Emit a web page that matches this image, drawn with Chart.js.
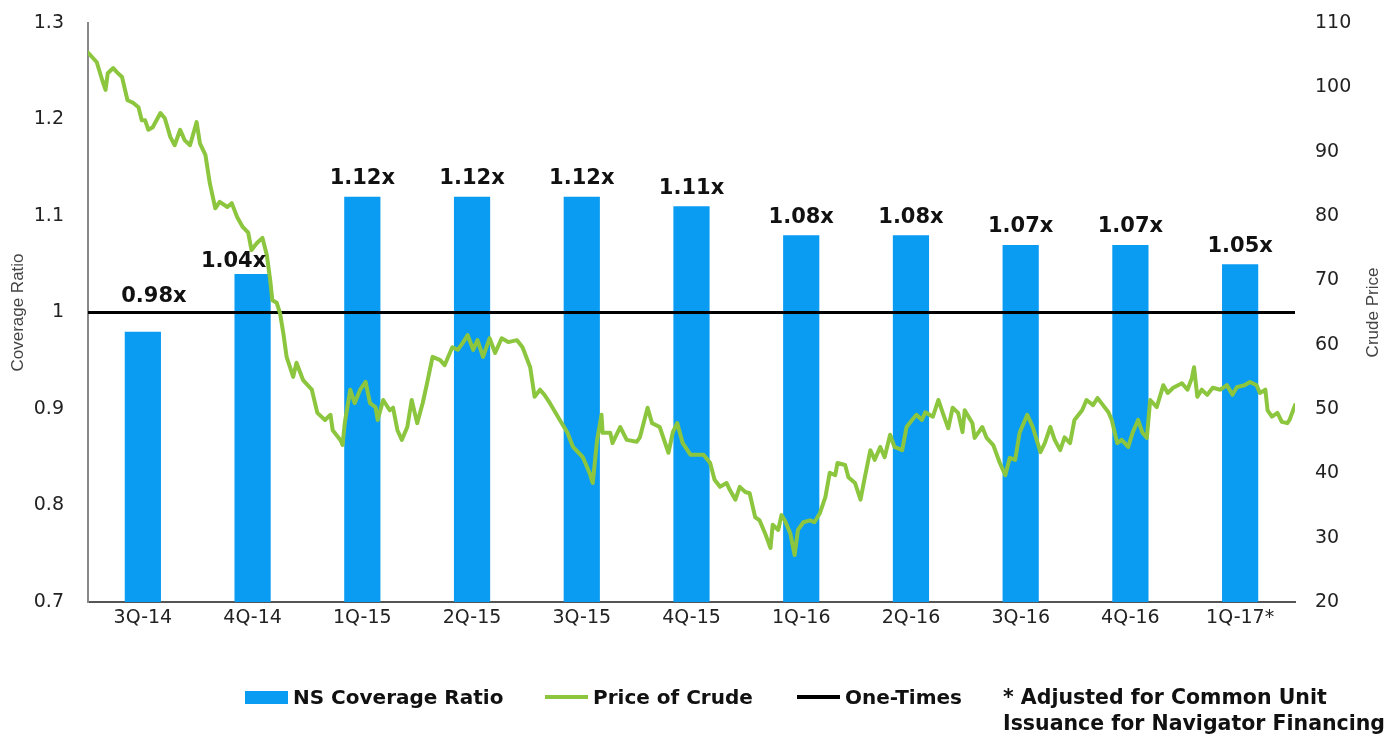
<!DOCTYPE html>
<html><head><meta charset="utf-8">
<script src="https://cdn.jsdelivr.net/npm/chart.js@4.4.1/dist/chart.umd.min.js"></script>
<style>
html,body{margin:0;padding:0;background:#fff;}
#wrap{position:relative;width:1397px;height:734px;overflow:hidden;}
#c{position:absolute;left:0;top:0;}
.lg{position:absolute;top:684px;font:bold 20px "DejaVu Sans",Verdana,sans-serif;color:#111;white-space:nowrap;display:flex;align-items:center;height:26px;}
.sw{display:inline-block;width:43px;margin-right:5px;}
.note{position:absolute;top:684px;left:1003px;font:bold 20.5px "DejaVu Sans",Verdana,sans-serif;color:#111;line-height:26px;white-space:nowrap;}
</style></head>
<body>
<div id="wrap"><canvas id="c" width="1397" height="734"></canvas></div>
<script>
// ---- data ----
const categories = ["3Q-14","4Q-14","1Q-15","2Q-15","3Q-15","4Q-15","1Q-16","2Q-16","3Q-16","4Q-16","1Q-17*"];
const coverageRatio = [0.98,1.04,1.12,1.12,1.12,1.11,1.08,1.08,1.07,1.07,1.05];
const coverageLabels = ["0.98x","1.04x","1.12x","1.12x","1.12x","1.11x","1.08x","1.08x","1.07x","1.07x","1.05x"];
const leftTickLabels = ["0.7","0.8","0.9","1","1.1","1.2","1.3"];
const rightTickLabels = ["20","30","40","50","60","70","80","90","100","110"];
// crude price: position in quarters since start of 3Q-14, price in $
const crudeQuarter = [0.00,0.08,0.13,0.16,0.18,0.23,0.26,0.31,0.36,0.41,0.46,0.49,0.52,0.55,0.59,0.66,0.70,0.75,0.79,0.84,0.88,0.93,0.99,1.02,1.07,1.11,1.16,1.20,1.27,1.31,1.36,1.41,1.46,1.49,1.54,1.59,1.63,1.66,1.68,1.72,1.75,1.78,1.81,1.87,1.90,1.96,2.04,2.09,2.16,2.21,2.23,2.30,2.32,2.34,2.39,2.43,2.48,2.53,2.57,2.62,2.64,2.69,2.75,2.78,2.82,2.86,2.91,2.95,3.00,3.05,3.09,3.14,3.21,3.25,3.32,3.37,3.42,3.46,3.51,3.55,3.60,3.66,3.71,3.77,3.83,3.91,3.96,4.03,4.07,4.12,4.16,4.21,4.30,4.37,4.42,4.51,4.57,4.60,4.64,4.68,4.69,4.76,4.78,4.85,4.91,5.00,5.03,5.10,5.14,5.21,5.29,5.33,5.37,5.42,5.49,5.61,5.67,5.71,5.76,5.82,5.85,5.90,5.94,5.99,6.03,6.08,6.12,6.17,6.22,6.24,6.29,6.32,6.35,6.40,6.44,6.47,6.52,6.58,6.62,6.67,6.72,6.76,6.81,6.83,6.90,6.93,6.99,7.04,7.08,7.13,7.17,7.22,7.26,7.31,7.35,7.42,7.46,7.51,7.55,7.60,7.63,7.70,7.75,7.79,7.84,7.88,7.93,7.97,7.99,8.06,8.08,8.15,8.19,8.25,8.31,8.36,8.40,8.45,8.49,8.56,8.61,8.68,8.72,8.77,8.81,8.86,8.90,8.95,8.99,9.06,9.10,9.16,9.20,9.25,9.30,9.33,9.38,9.42,9.48,9.52,9.57,9.61,9.65,9.68,9.74,9.80,9.84,9.89,9.97,10.02,10.06,10.08,10.11,10.15,10.20,10.25,10.32,10.38,10.43,10.47,10.54,10.59,10.65,10.68,10.73,10.75,10.79,10.84,10.88,10.93,10.95,11.00];
const crudePrice = [105.4,103.9,101.1,99.6,102.2,103.0,102.4,101.6,98.0,97.6,96.9,94.9,94.9,93.4,93.8,96.0,95.2,92.3,91.0,93.4,91.8,91.0,94.6,91.3,89.5,85.1,81.2,82.2,81.4,82.0,79.8,78.3,77.4,74.7,75.8,76.6,73.9,70.1,66.9,66.5,64.9,61.8,58.1,55.0,57.2,54.5,53.0,49.4,48.3,49.1,46.7,45.2,44.4,47.8,53.0,50.9,53.0,54.2,50.9,50.3,48.3,51.4,49.8,50.2,46.7,45.2,47.2,51.4,47.8,50.9,54.0,58.1,57.6,56.8,59.6,59.2,60.4,61.5,59.2,60.7,58.1,61.0,58.7,61.0,60.4,60.7,59.6,56.5,51.9,53.0,52.2,50.9,48.3,46.3,44.1,42.5,40.1,38.5,45.2,49.1,46.3,46.3,44.7,47.2,45.2,44.9,45.6,50.2,47.8,47.2,43.2,46.4,47.8,44.7,42.9,42.9,41.6,39.0,37.9,38.5,37.4,35.9,37.9,37.1,36.9,33.2,32.7,30.7,28.4,32.0,31.2,33.5,32.7,30.7,27.3,31.2,32.4,32.7,32.4,33.8,36.3,40.1,39.7,41.6,41.3,39.4,38.5,35.9,39.4,43.6,42.1,44.1,42.5,46.0,44.1,43.6,47.2,48.3,49.1,48.3,49.5,48.8,51.4,49.4,47.0,50.2,49.4,46.4,49.8,47.8,45.5,47.2,45.5,44.4,41.6,39.7,42.4,42.1,46.3,49.1,47.2,43.3,44.7,47.2,45.2,43.6,45.6,44.7,48.3,49.8,51.4,50.6,51.7,50.6,49.5,48.3,44.7,45.2,44.1,46.3,48.3,46.3,45.5,51.4,50.3,53.7,52.5,53.3,54.0,53.0,54.8,56.5,51.9,53.0,52.2,53.3,53.0,53.7,52.2,53.4,53.7,54.2,53.7,52.5,53.0,49.8,48.8,49.4,48.0,47.8,48.3,50.6];
const oneTimesQuarter = [0, 11];
const oneTimesLevel = [1, 1];
const seriesNames = ["NS Coverage Ratio","Price of Crude","One-Times"];
const footnote = ["* Adjusted for Common Unit","Issuance for Navigator Financing"];

// ---- styles ----
const BLUE = "#0A9BF2", GREEN = "#8CC63F", BLACK = "#000000";
const FONT = '"DejaVu Sans", Verdana, sans-serif';
const AREA_TOP = 23, AREA_BOTTOM = 602;

const crudePoints = crudeQuarter.map((q, i) => ({x: q, y: crudePrice[i]}));
const oneTimesPoints = oneTimesQuarter.map((q, i) => ({x: q, y: oneTimesLevel[i]}));

const labelPlugin = {
  id: "barLabels",
  afterDatasetsDraw(chart) {
    const meta = chart.getDatasetMeta(0);
    const ctx = chart.ctx;
    ctx.save();
    ctx.font = "bold 21px " + FONT;
    ctx.fillStyle = "#111";
    ctx.textAlign = "center";
    ctx.textBaseline = "middle";
    meta.data.forEach((bar, i) => {
      let dx = 0, dy = -18;
      if (i === 0) { dx = 11; dy = -35; }
      if (i === 1) { dx = -19; dy = -12; }
      ctx.fillText(coverageLabels[i], bar.x + dx, bar.y + dy);
    });
    ctx.restore();
  }
};

const rightTitlePlugin = {
  id: "rightTitle",
  afterDraw(chart) {
    const ctx = chart.ctx;
    const a = chart.chartArea;
    ctx.save();
    ctx.translate(1373, (a.top + a.bottom) / 2);
    ctx.rotate(-Math.PI / 2);
    ctx.font = '17px "Liberation Sans", Arial, sans-serif';
    ctx.fillStyle = "#444";
    ctx.textAlign = "center";
    ctx.textBaseline = "middle";
    ctx.fillText("Crude Price", 0, 0);
    ctx.restore();
  }
};

const fitVertical = w => s => { s.width = w; s.paddingTop = 0; s.paddingBottom = 0; };

const chart = new Chart(document.getElementById("c"), {
  data: {
    labels: categories,
    datasets: [
      { type: "bar", label: seriesNames[0], data: coverageRatio, backgroundColor: BLUE,
        yAxisID: "y", xAxisID: "x", barPercentage: 0.33, categoryPercentage: 1, grouped: false, order: 3 },
      { type: "line", label: seriesNames[1], data: crudePoints, borderColor: GREEN, backgroundColor: GREEN,
        borderWidth: 4, pointRadius: 0, tension: 0, borderJoinStyle: "round", borderCapStyle: "round",
        yAxisID: "y2", xAxisID: "x2", order: 1 },
      { type: "line", label: seriesNames[2], data: oneTimesPoints, borderColor: BLACK, backgroundColor: BLACK,
        borderWidth: 3, pointRadius: 0, yAxisID: "y", xAxisID: "x2", order: 2 }
    ]
  },
  options: {
    responsive: false,
    animation: false,
    layout: { padding: { top: AREA_TOP, left: 0, right: 0, bottom: 0 } },
    plugins: { legend: { display: false }, tooltip: { enabled: false } },
    scales: {
      x: {
        type: "category", position: "bottom",
        grid: { display: false, drawTicks: false },
        border: { display: true, color: "#555", width: 2 },
        ticks: { font: { family: FONT, size: 19 }, color: "#222", padding: 5, maxRotation: 0, autoSkip: false },
        afterFit: s => { s.height = 734 - AREA_BOTTOM; }
      },
      x2: { type: "linear", min: 0, max: 11, display: false },
      y: {
        position: "left", min: 0.7, max: 1.3,
        grid: { display: false, drawTicks: false },
        border: { display: true, color: "#888", width: 2 },
        ticks: { stepSize: 0.1, font: { family: FONT, size: 19 }, color: "#222", padding: 24,
                 callback: (v, i) => leftTickLabels[i] },
        title: { display: true, text: "Coverage Ratio", font: { family: '"Liberation Sans", Arial, sans-serif', size: 17 },
                 color: "#444", padding: { top: 8, bottom: 0 } },
        afterFit: fitVertical(88)
      },
      y2: {
        position: "right", min: 20, max: 110,
        grid: { display: false, drawTicks: false },
        border: { display: false },
        ticks: { stepSize: 10, font: { family: FONT, size: 19 }, color: "#222", padding: 20,
                 callback: (v, i) => rightTickLabels[i] },
        afterFit: fitVertical(102)
      }
    }
  },
  plugins: [labelPlugin, rightTitlePlugin]
});

// ---- HTML legend built from datasets ----
const wrap = document.getElementById("wrap");
const legendX = [245, 545, 797];
chart.data.datasets.forEach((ds, i) => {
  const item = document.createElement("div");
  item.className = "lg";
  item.style.left = legendX[i] + "px";
  const sw = document.createElement("span");
  sw.className = "sw";
  sw.style.background = ds.type === "bar" ? ds.backgroundColor : ds.borderColor;
  sw.style.height = ds.type === "bar" ? "13px" : "4px";
  item.appendChild(sw);
  item.appendChild(document.createTextNode(ds.label));
  wrap.appendChild(item);
});
const note = document.createElement("div");
note.className = "note";
note.innerHTML = footnote.join("<br>");
wrap.appendChild(note);
</script>
</body></html>
